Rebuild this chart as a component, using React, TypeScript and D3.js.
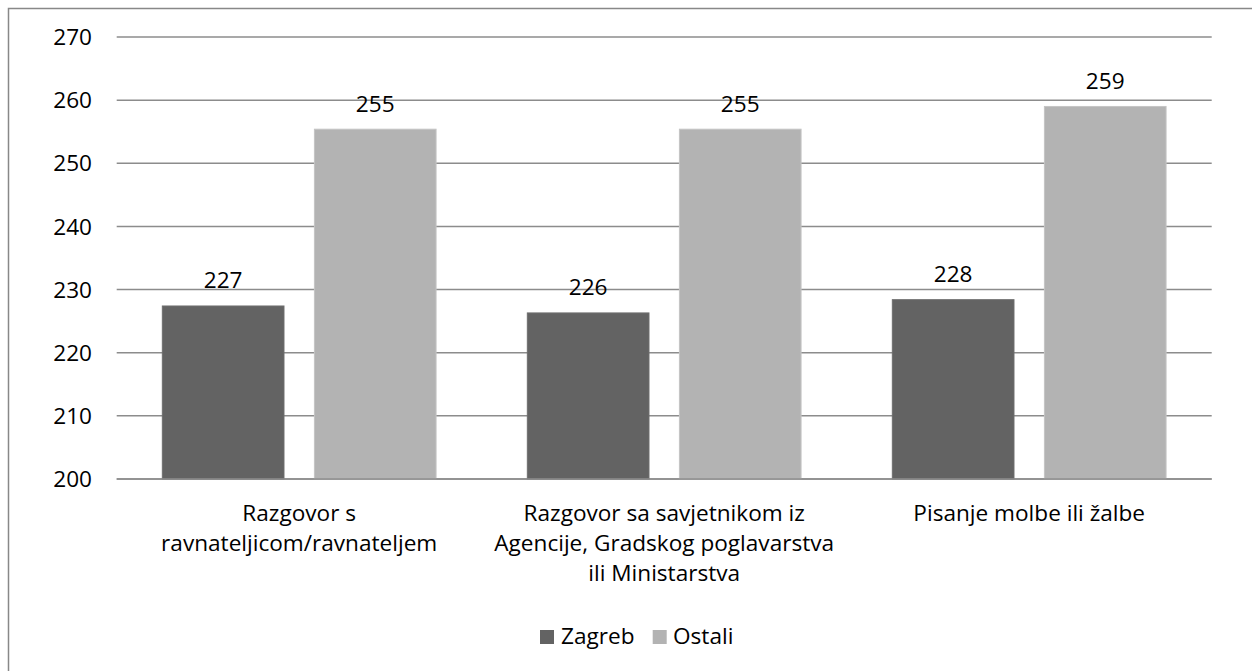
import React from "react";
import * as d3 from "d3";

const categories: string[][] = [
  ["Razgovor s", "ravnateljicom/ravnateljem"],
  ["Razgovor sa savjetnikom iz", "Agencije, Gradskog poglavarstva", "ili Ministarstva"],
  ["Pisanje molbe ili žalbe"],
];
const seriesNames = ["Zagreb", "Ostali"];
const zagreb = [227.4, 226.3, 228.4];
const ostali = [255.4, 255.4, 259.0];
const labelsZagreb = ["227", "226", "228"];
const labelsOstali = ["255", "255", "259"];
const yTicks = [200, 210, 220, 230, 240, 250, 260, 270];
const colors = ["#636363", "#b3b3b3"];

const W = 1252;
const H = 671;
const FONT = "'Open Sans', sans-serif";
const FS = 22.6;

export default function App() {
  const left = 116.7;
  const right = 1211.7;
  const top = 37;
  const bottom = 479;
  const y = d3.scaleLinear().domain([200, 270]).range([bottom, top]);
  const x0 = d3
    .scaleBand<number>()
    .domain(d3.range(categories.length))
    .range([left, right])
    .paddingInner(0)
    .paddingOuter(0);
  const x1 = d3
    .scaleBand<number>()
    .domain([0, 1])
    .range([0, x0.bandwidth()])
    .paddingInner(0.2)
    .paddingOuter(0.3);
  const series = [zagreb, ostali];
  const labels = [labelsZagreb, labelsOstali];

  return (
    <svg
      width={W}
      height={H}
      style={{ position: "absolute", left: 0, top: 0, background: "#fff" }}
      fontFamily={FONT}
    >
      <rect x={8.5} y={8.5} width={W + 20} height={H + 20} fill="#fff" stroke="#888" strokeWidth={1.5} />
      {yTicks.map((t) => (
        <g key={t}>
          <line x1={left} x2={right} y1={y(t)} y2={y(t)} stroke="#8c8c8c" strokeWidth={1.5} />
          <text x={92} y={y(t)} dy="0.36em" textAnchor="end" fontSize={FS} fill="#000">
            {t}
          </text>
        </g>
      ))}
      {categories.map((_, ci) =>
        series.map((s, si) => {
          const bx = (x0(ci) as number) + (x1(si) as number);
          const bw = x1.bandwidth();
          return (
            <g key={`${ci}-${si}`}>
              <rect
                x={bx}
                y={y(s[ci])}
                width={bw}
                height={y(200) - y(s[ci])}
                fill={colors[si]}
                stroke={si === 0 ? "#6e6e6e" : "#c4c4c4"}
                strokeWidth={1}
              />
              <text
                x={bx + bw / 2}
                y={y(s[ci]) - 17.5}
                textAnchor="middle"
                fontSize={FS}
                fill="#000"
              >
                {labels[si][ci]}
              </text>
            </g>
          );
        })
      )}
      <line x1={left} x2={right} y1={y(200)} y2={y(200)} stroke="#8c8c8c" strokeWidth={1.5} />
      {categories.map((lines, ci) => (
        <text
          key={ci}
          x={(x0(ci) as number) + x0.bandwidth() / 2}
          y={521}
          textAnchor="middle"
          fontSize={FS}
          fill="#000"
        >
          {lines.map((l, li) => (
            <tspan key={li} x={(x0(ci) as number) + x0.bandwidth() / 2} dy={li === 0 ? 0 : 30}>
              {l}
            </tspan>
          ))}
        </text>
      ))}
      <g>
        <rect x={540} y={630} width={14} height={14} fill={colors[0]} />
        <text x={561} y={644} fontSize={FS} fill="#000">
          {seriesNames[0]}
        </text>
        <rect x={652.7} y={630} width={14} height={14} fill={colors[1]} />
        <text x={673} y={644} fontSize={FS} fill="#000">
          {seriesNames[1]}
        </text>
      </g>
    </svg>
  );
}
